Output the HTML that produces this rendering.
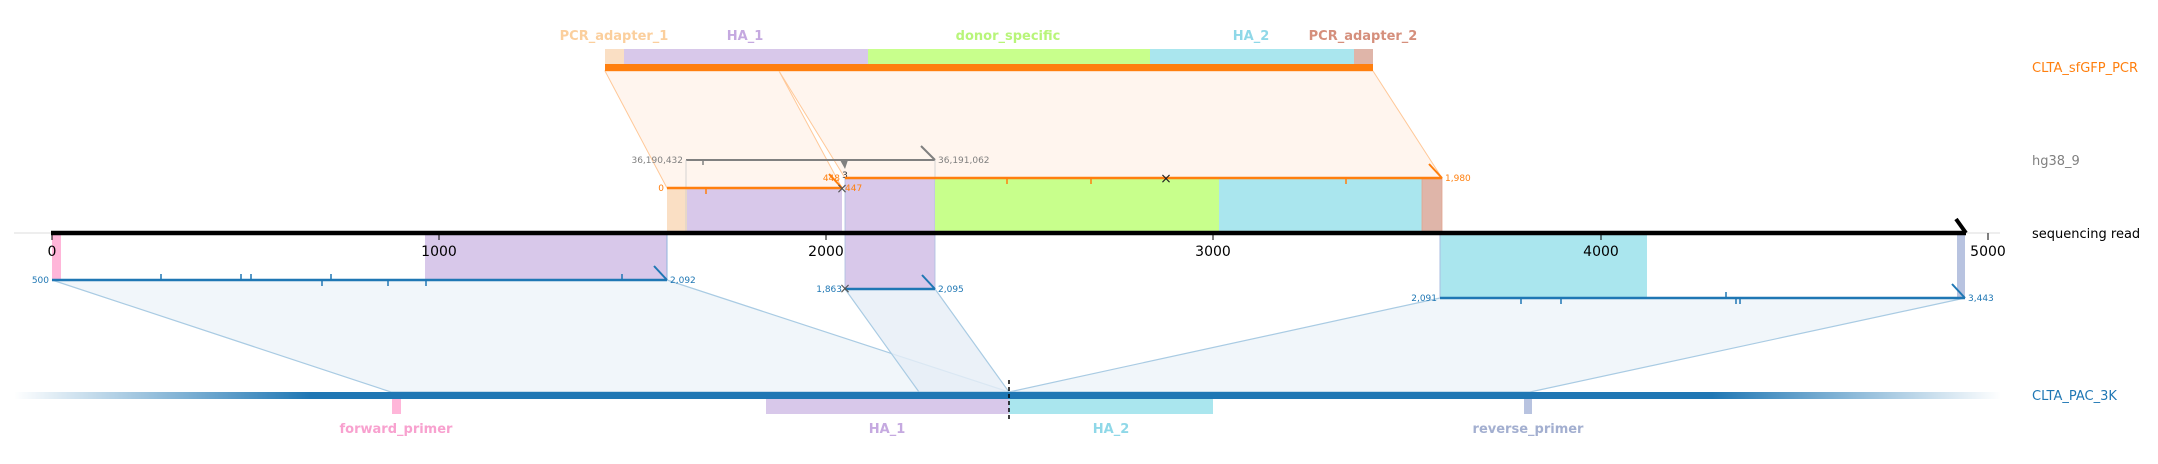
<!DOCTYPE html>
<html><head><meta charset="utf-8"><style>
html,body{margin:0;padding:0;background:#fff;}
svg{display:block;font-family:"DejaVu Sans","Liberation Sans",sans-serif;}
</style></head><body>
<svg width="2158" height="464" viewBox="0 0 2158 464" xmlns="http://www.w3.org/2000/svg">
<defs>
<linearGradient id="gl" x1="0" x2="1"><stop offset="0" stop-color="#1f77b4" stop-opacity="0"/><stop offset="1" stop-color="#1f77b4"/></linearGradient>
<linearGradient id="gr" x1="0" x2="1"><stop offset="0" stop-color="#1f77b4"/><stop offset="1" stop-color="#1f77b4" stop-opacity="0"/></linearGradient>
</defs>
<polygon points="605,71 779,71 842,188 667,188" fill="#fff5ee" stroke="#ffc898" stroke-width="1"/>
<polygon points="779,71 1373,71 1442,178 845,178" fill="#fff5ee" stroke="#ffc898" stroke-width="1"/>
<polygon points="52,280 667,280 1009,392 391,392" fill="#f1f6fa" stroke="#a9cbe3" stroke-width="1.2"/>
<polygon points="845,289 935,289 1009,392 919,392" fill="#e6eef6" fill-opacity="0.8" stroke="#a9cbe3" stroke-width="1.2"/>
<polygon points="1440,298 1965,298 1530,392 1009,392" fill="#f1f6fa" stroke="#a9cbe3" stroke-width="1.2"/>
<rect x="605" y="49" width="19" height="15" fill="#fadfc4"/>
<rect x="624" y="49" width="244" height="15" fill="#d8c8ea"/>
<rect x="868" y="49" width="282" height="15" fill="#c8ff8c"/>
<rect x="1150" y="49" width="204" height="15" fill="#aae6ee"/>
<rect x="1354" y="49" width="19" height="15" fill="#dfb5a9"/>
<rect x="605" y="64" width="768" height="7" fill="#ff7f0e"/>
<g font-size="13" font-weight="bold" text-anchor="middle">
<text x="614" y="40" fill="#fbcf9d">PCR_adapter_1</text>
<text x="745" y="40" fill="#c5a9e0">HA_1</text>
<text x="1008" y="40" fill="#b8f57a">donor_specific</text>
<text x="1251" y="40" fill="#8fd8e8">HA_2</text>
<text x="1363" y="40" fill="#d58f7c">PCR_adapter_2</text>
</g>
<rect x="667" y="188" width="20" height="45" fill="#fadfc4"/>
<rect x="687" y="188" width="155" height="45" fill="#d8c8ea"/>
<rect x="845" y="178" width="90" height="111" fill="#d8c8ea" stroke="#a9bde0" stroke-width="0.8"/>
<rect x="935" y="178" width="284" height="55" fill="#c8ff8c"/>
<rect x="1219" y="178" width="203" height="55" fill="#aae6ee"/>
<rect x="1422" y="178" width="20" height="55" fill="#dfb5a9" stroke="#e3a58f" stroke-width="0.8"/>
<line x1="686" y1="160" x2="935" y2="160" stroke="#808080" stroke-width="2"/>
<line x1="935" y1="160" x2="921" y2="146" stroke="#808080" stroke-width="2"/>
<line x1="703" y1="160" x2="703" y2="165" stroke="#808080" stroke-width="1.5"/>
<polygon points="840,160 848,160 845,169" fill="#808080"/>
<line x1="686" y1="160" x2="686" y2="233" stroke="#ccc" stroke-width="0.8"/>
<line x1="935" y1="160" x2="935" y2="178" stroke="#ccc" stroke-width="0.8"/>
<g font-size="9" fill="#808080"><text x="683" y="163" text-anchor="end">36,190,432</text><text x="938" y="163">36,191,062</text></g>
<text x="845" y="178" font-size="9" text-anchor="middle" fill="#333">3</text>
<line x1="667" y1="188" x2="842" y2="188" stroke="#ff7f0e" stroke-width="2.5"/>
<line x1="706" y1="188" x2="706" y2="194" stroke="#ff7f0e" stroke-width="1.5"/>
<line x1="845" y1="178" x2="1442" y2="178" stroke="#ff7f0e" stroke-width="2.5"/>
<line x1="1442" y1="178" x2="1429" y2="164" stroke="#ff7f0e" stroke-width="2"/>
<line x1="842" y1="188" x2="829" y2="174" stroke="#ff7f0e" stroke-width="2"/>
<line x1="1007" y1="178" x2="1007" y2="184" stroke="#ff7f0e" stroke-width="1.5"/>
<line x1="1091" y1="178" x2="1091" y2="184" stroke="#ff7f0e" stroke-width="1.5"/>
<line x1="1346" y1="178" x2="1346" y2="184" stroke="#ff7f0e" stroke-width="1.5"/>
<text x="1166" y="183" font-size="14" text-anchor="middle" fill="#222">×</text>
<text x="842" y="193" font-size="14" text-anchor="middle" fill="#555">×</text>
<g font-size="9" fill="#ff7f0e"><text x="664" y="191" text-anchor="end">0</text><text x="845" y="191">447</text><text x="840" y="181" text-anchor="end">448</text><text x="1445" y="181">1,980</text></g>
<rect x="52" y="233" width="9" height="47" fill="#ffb6d9"/>
<rect x="425" y="233" width="242" height="47" fill="#d8c8ea"/>
<line x1="667" y1="233" x2="667" y2="280" stroke="#8fb3dc" stroke-width="1"/>
<rect x="1440" y="233" width="207" height="65" fill="#aae6ee"/>
<line x1="1440" y1="233" x2="1440" y2="298" stroke="#a9bde0" stroke-width="1"/>
<rect x="1957" y="233" width="8" height="65" fill="#b8c3e0"/>
<line x1="52" y1="280" x2="667" y2="280" stroke="#1f77b4" stroke-width="2.5"/>
<line x1="667" y1="280" x2="654" y2="266" stroke="#1f77b4" stroke-width="2"/>
<g stroke="#1f77b4" stroke-width="1.5">
<line x1="161" y1="280" x2="161" y2="274"/><line x1="241" y1="280" x2="241" y2="274"/><line x1="251" y1="280" x2="251" y2="274"/>
<line x1="331" y1="280" x2="331" y2="274"/><line x1="322" y1="280" x2="322" y2="286"/><line x1="388" y1="280" x2="388" y2="286"/>
<line x1="426" y1="280" x2="426" y2="286"/><line x1="622" y1="280" x2="622" y2="274"/>
<line x1="1521" y1="298" x2="1521" y2="304"/><line x1="1561" y1="298" x2="1561" y2="304"/><line x1="1726" y1="298" x2="1726" y2="292"/>
<line x1="1736" y1="298" x2="1736" y2="304"/><line x1="1740" y1="298" x2="1740" y2="304"/>
</g>
<line x1="845" y1="289" x2="935" y2="289" stroke="#1f77b4" stroke-width="2.5"/>
<line x1="935" y1="289" x2="922" y2="275" stroke="#1f77b4" stroke-width="2"/>
<text x="845" y="293" font-size="14" text-anchor="middle" fill="#555">×</text>
<line x1="1440" y1="298" x2="1965" y2="298" stroke="#1f77b4" stroke-width="2.5"/>
<line x1="1965" y1="298" x2="1952" y2="284" stroke="#1f77b4" stroke-width="2"/>
<g font-size="9" fill="#1f77b4"><text x="49" y="283" text-anchor="end">500</text><text x="670" y="283">2,092</text>
<text x="842" y="292" text-anchor="end">1,863</text><text x="938" y="292">2,095</text>
<text x="1437" y="301" text-anchor="end">2,091</text><text x="1968" y="301">3,443</text></g>
<line x1="14" y1="233" x2="2000" y2="233" stroke="#ddd" stroke-width="1"/>
<line x1="51" y1="233" x2="1966" y2="233" stroke="#000" stroke-width="4.5"/>
<line x1="1966" y1="233" x2="1956" y2="219" stroke="#000" stroke-width="4"/>
<g stroke="#000" stroke-width="1"><line x1="52" y1="233" x2="52" y2="240"/><line x1="439" y1="233" x2="439" y2="240"/><line x1="826" y1="233" x2="826" y2="240"/><line x1="1213" y1="233" x2="1213" y2="240"/><line x1="1601" y1="233" x2="1601" y2="240"/><line x1="1988" y1="233" x2="1988" y2="240"/></g>
<g font-size="14" text-anchor="middle" fill="#000"><text x="52" y="256">0</text><text x="439" y="256">1000</text><text x="826" y="256">2000</text><text x="1213" y="256">3000</text><text x="1601" y="256">4000</text><text x="1988" y="256">5000</text></g>
<rect x="14" y="392" width="296" height="7" fill="url(#gl)"/>
<rect x="309" y="392" width="1404" height="7" fill="#1f77b4"/>
<rect x="1712" y="392" width="289" height="7" fill="url(#gr)"/>
<rect x="392" y="399" width="9" height="15" fill="#ffb6d9"/>
<rect x="766" y="399" width="243" height="15" fill="#d8c8ea"/>
<rect x="1009" y="399" width="204" height="15" fill="#aae6ee"/>
<rect x="1524" y="399" width="8" height="15" fill="#b8c3e0"/>
<line x1="1009" y1="380" x2="1009" y2="420" stroke="#000" stroke-width="1.5" stroke-dasharray="4,3"/>
<g font-size="13" font-weight="bold" text-anchor="middle">
<text x="396" y="433" fill="#f8a1cf">forward_primer</text>
<text x="887" y="433" fill="#c5a9e0">HA_1</text>
<text x="1111" y="433" fill="#8fd8e8">HA_2</text>
<text x="1528" y="433" fill="#a3afd0">reverse_primer</text>
</g>
<g font-size="13">
<text x="2032" y="72" fill="#ff7f0e">CLTA_sfGFP_PCR</text>
<text x="2032" y="165" fill="#808080">hg38_9</text>
<text x="2032" y="238" fill="#000">sequencing read</text>
<text x="2032" y="400" fill="#1f77b4">CLTA_PAC_3K</text>
</g>
</svg>
</body></html>
